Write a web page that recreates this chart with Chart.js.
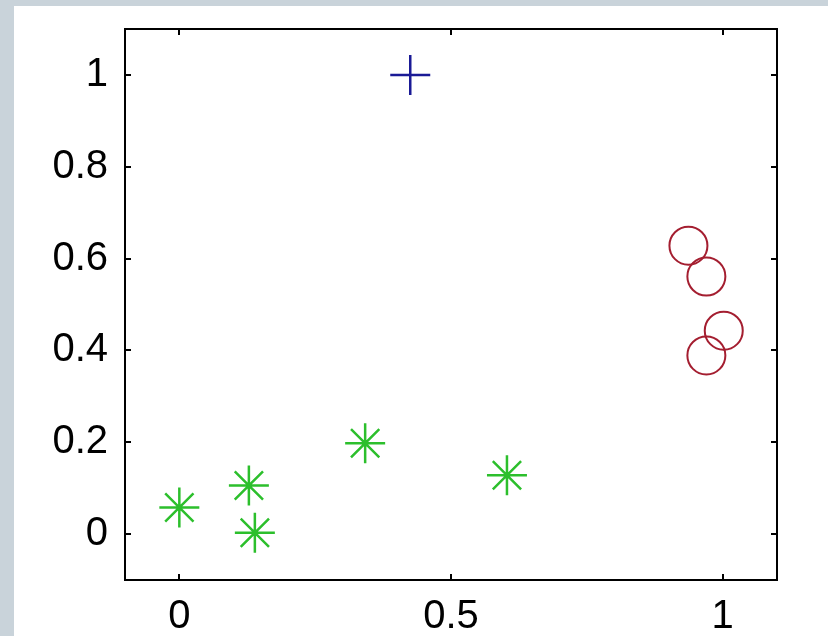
<!DOCTYPE html>
<html>
<head>
<meta charset="utf-8">
<script src="https://cdn.jsdelivr.net/npm/chart.js@4/dist/chart.umd.min.js"></script>
<style>
  body { margin: 0; background: #c9d3da; }
  #marco { position: absolute; left: 14px; top: 6px; width: 814px; height: 630px; background: #fff; }
</style>
</head>
<body>
<div id="marco"><canvas id="grafico" width="812" height="630"></canvas></div>
<script>
// datos
const cruzX = [0.425];
const cruzY = [1.0];
const estrellaX = [0.0, 0.128, 0.139, 0.342, 0.603];
const estrellaY = [0.058, 0.106, 0.003, 0.198, 0.128];
const circuloX = [0.937, 0.970, 1.002, 0.970];
const circuloY = [0.628, 0.561, 0.443, 0.389];
const ticksX = [0, 0.5, 1];
const ticksY = [0, 0.2, 0.4, 0.6, 0.8, 1];

function puntos(xs, ys) {
    return xs.map((x, i) => ({ x: x, y: ys[i] }));
}

// caja con marcas hacia adentro (estilo matlab)
const cajaPlugin = {
    id: 'caja',
    afterDraw(chart) {
        const ctx = chart.ctx;
        const a = chart.chartArea;
        const sx = chart.scales.x, sy = chart.scales.y;
        const largo = 6;
        ctx.save();
        ctx.strokeStyle = '#000';
        ctx.lineWidth = 2;
        ctx.strokeRect(a.left, a.top, a.right - a.left, a.bottom - a.top);
        ctx.beginPath();
        ticksX.forEach(v => {
            let px = Math.round(sx.getPixelForValue(v));
            ctx.moveTo(px, a.bottom); ctx.lineTo(px, a.bottom - largo);
            ctx.moveTo(px, a.top); ctx.lineTo(px, a.top + largo);
        });
        ticksY.forEach(v => {
            let py = Math.round(sy.getPixelForValue(v));
            ctx.moveTo(a.left, py); ctx.lineTo(a.left + largo, py);
            ctx.moveTo(a.right, py); ctx.lineTo(a.right - largo, py);
        });
        ctx.stroke();
        ctx.restore();
    }
};

new Chart(document.getElementById('grafico'), {
    type: 'scatter',
    data: {
        datasets: [
            { data: puntos(cruzX, cruzY), pointStyle: 'cross', pointRadius: 20, borderColor: '#1a1a96', borderWidth: 2.5 },
            { data: puntos(estrellaX, estrellaY), pointStyle: 'star', pointRadius: 20, borderColor: '#2cbf2c', borderWidth: 2.5 },
            { data: puntos(circuloX, circuloY), pointStyle: 'circle', pointRadius: 19, borderColor: '#a41e30', backgroundColor: 'rgba(0,0,0,0)', borderWidth: 2 }
        ]
    },
    options: {
        responsive: false,
        animation: false,
        events: [],
        layout: { padding: { left: 0, top: 23, right: 49, bottom: 0 } },
        plugins: { legend: { display: false }, tooltip: { enabled: false } },
        scales: {
            x: {
                min: -0.1, max: 1.1,
                afterBuildTicks: s => { s.ticks = ticksX.map(v => ({ value: v })); },
                afterFit: s => { s.height = 56; s.paddingLeft = 0; s.paddingRight = 0; },
                grid: { display: false },
                border: { display: false },
                ticks: { color: '#000', padding: 5, font: { family: 'Liberation Sans', size: 40 },
                         callback: v => String(v) }
            },
            y: {
                min: -0.1, max: 1.1,
                afterBuildTicks: s => { s.ticks = ticksY.map(v => ({ value: v })); },
                afterFit: s => { s.width = 111; s.paddingTop = 0; s.paddingBottom = 0; },
                grid: { display: false },
                border: { display: false },
                ticks: { color: '#000', padding: 9, font: { family: 'Liberation Sans', size: 40 },
                         callback: v => String(v) }
            }
        }
    },
    plugins: [cajaPlugin]
});
</script>
</body>
</html>
